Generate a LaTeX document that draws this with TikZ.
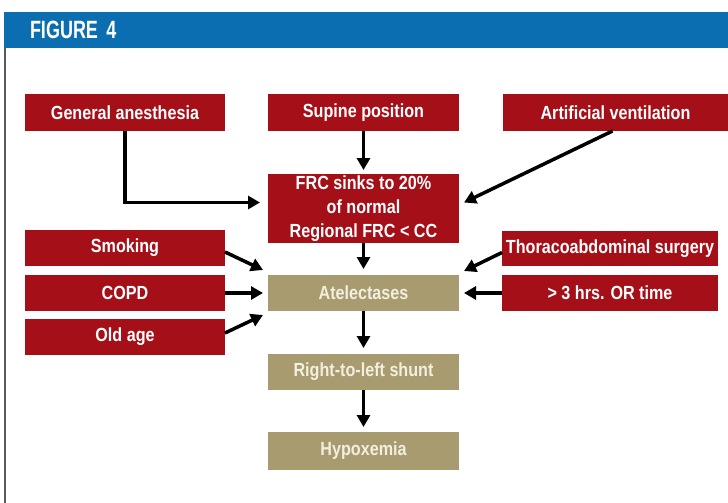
\documentclass[tikz,border=0pt]{standalone}
\usepackage{fontspec}
\setmainfont{Liberation Sans}[FakeStretch=0.85]
\newfontfamily\headfont{Liberation Sans}[FakeStretch=0.72]
\usepackage{tikz}
\usetikzlibrary{positioning,arrows.meta}
\definecolor{figblue}{HTML}{0A6EB0}
\definecolor{causered}{HTML}{A50F18}
\definecolor{effecttan}{HTML}{A89B6F}
\definecolor{creamtext}{HTML}{F3EFDF}

\begin{document}
\begin{tikzpicture}[node distance=43pt,
    box/.style={minimum height=36pt, inner sep=0pt, outer sep=0pt, align=center,
        font=\bfseries\fontsize{19}{24}\selectfont},
    causebox/.style={box, fill=causered, text=white, minimum width=200pt},
    midbox/.style={box, fill=causered, text=white, minimum width=191pt},
    effectbox/.style={box, fill=effecttan, text=creamtext, minimum width=191pt},
    arr/.style={-{Triangle[length=12pt,width=13pt]}, line width=3.5pt}]
        \useasboundingbox (0,0) rectangle (728pt,-503pt);
        % frame of the figure
        \node [fill=figblue, text=white, anchor=north west, minimum width=724pt, minimum height=36pt,
            inner xsep=26pt, text width=672pt, align=left, outer sep=0pt,
            font=\headfont\bfseries\fontsize{25}{26}\selectfont] (title) at (4pt,-12pt) {FIGURE 4};
        \draw [gray!70!black, line width=1.5pt] (4.75pt,-48pt) -- (4.75pt,-503pt);

        \node [midbox, minimum height=37pt] (Sup) at (363.5pt,-112.5pt) {Supine position};
        \node [causebox, minimum height=37pt, left=of Sup] (GA) {General anesthesia};
        \node [causebox, minimum height=37pt, minimum width=225pt, right=44pt of Sup] (AV) {Artificial ventilation};

        \node [midbox, minimum height=69pt, below=of Sup] (FRC) {FRC sinks to 20\%\\of normal\\Regional FRC < CC};
        \node [effectbox, below=32pt of FRC] (Atel) {Atelectases};
        \node [effectbox, below=of Atel] (Shunt) {Right-to-left shunt};
        \node [effectbox, minimum height=38pt, below=42pt of Shunt] (Hypo) {Hypoxemia};

        \node [causebox, left=of Atel] (COPD) {COPD};
        \node [causebox, above=9pt of COPD] (Smok) {Smoking};
        \node [causebox, below=8pt of COPD] (Old) {Old age};
        \node [causebox, minimum width=216pt, right=43pt of Atel] (ORt) {> 3 hrs. OR time};
        \node [causebox, minimum width=216pt, minimum height=35pt, above=9pt of ORt] (Thor) {Thoracoabdominal surgery};

        \draw [arr, shorten >=4pt] (Sup) -- (FRC);
        \draw [arr] (GA.south) |- ([shift={(-8pt,6pt)}]FRC.west);
        \draw [arr] ([xshift=-3pt]AV.south) -- ([shift={(5pt,6pt)}]FRC.east);
        \draw [arr, shorten >=6pt] (FRC) -- (Atel);
        \draw [arr, shorten >=6pt] (Atel) -- (Shunt);
        \draw [arr, shorten >=5pt] (Shunt) -- (Hypo);

        \draw [arr] ([yshift=-4pt]Smok.east) -- ([shift={(-5pt,5pt)}]Atel.north west);
        \draw [arr, shorten >=5pt] (COPD) -- (Atel);
        \draw [arr] ([yshift=4pt]Old.east) -- ([shift={(-5pt,-4pt)}]Atel.south west);
        \draw [arr] ([yshift=-4pt]Thor.west) -- ([shift={(5pt,4pt)}]Atel.north east);
        \draw [arr, shorten >=5pt] (ORt) -- (Atel);
    \end{tikzpicture}
\end{document}
